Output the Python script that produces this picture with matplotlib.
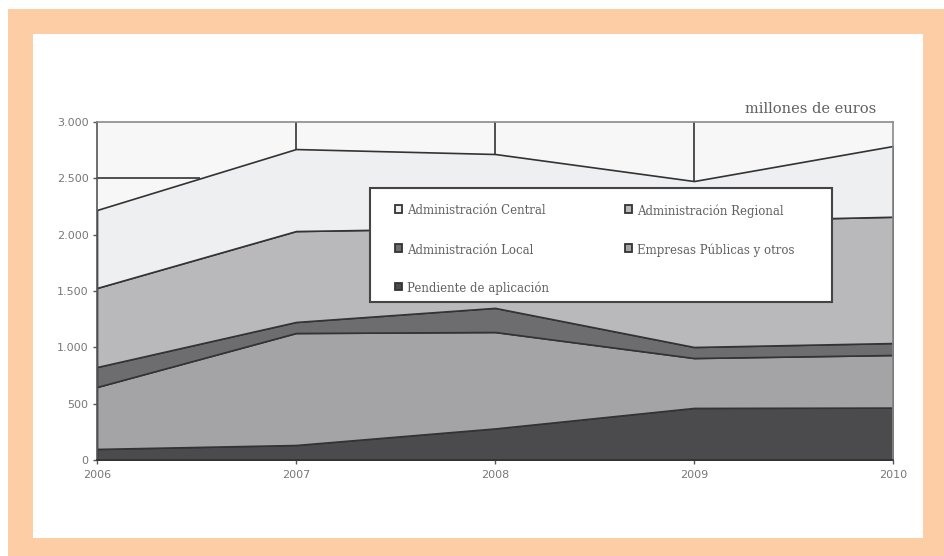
import matplotlib
matplotlib.use("Agg")
import matplotlib.pyplot as plt
from matplotlib.patches import Rectangle
import numpy as np

years = [2006, 2007, 2008, 2009, 2010]
pendiente = [98, 133, 280, 462, 465]
empresas = [550, 994, 856, 443, 467]
local = [177, 98, 214, 98, 106]
regional = [702, 807, 710, 1117, 1121]
central = [692, 728, 656, 356, 628]

series_labels = ["Pendiente de aplicación", "Empresas Públicas y otros",
                 "Administración Local", "Administración Regional",
                 "Administración Central"]
series_colors = ["#4b4b4e", "#a4a4a7", "#6d6d70", "#b9b9bc", "#eeeff1"]
yticks = [0, 500, 1000, 1500, 2000, 2500, 3000]
ytick_labels = ["0", "500", "1.000", "1.500", "2.000", "2.500", "3.000"]

W, H = 944, 556
fig = plt.figure(figsize=(W / 100, H / 100), dpi=100)
fig.patch.set_facecolor("white")

# orange frame
fig.patches.append(Rectangle((8 / W, 0), 1 - 8 / W, 1 - 9 / H, transform=fig.transFigure,
                             facecolor="#fdcda5", edgecolor="none", zorder=-10))
fig.patches.append(Rectangle((33 / W, (H - 538) / H), (923 - 33) / W, (538 - 34) / H,
                             transform=fig.transFigure, facecolor="white",
                             edgecolor="none", zorder=-9))

ax = fig.add_axes([97 / W, (H - 460) / H, (893 - 97) / W, (460 - 122) / H])
ax.set_facecolor("#f7f7f8")
data = [pendiente, empresas, local, regional, central]
ax.stackplot(years, *data, colors=series_colors, edgecolor="#333333", linewidth=1.2)

total = np.sum(np.array(data), axis=0)
# drop lines from the total to the top of the chart
ax.vlines(years[1:4], total[1:4], 3000, color="#333333", linewidth=1.2)
# horizontal 2500 line from the axis to where the total crosses it
x_cross = years[0] + (2500 - total[0]) / (total[1] - total[0]) * (years[1] - years[0])
ax.hlines(2500, years[0], x_cross, color="#333333", linewidth=1.2)

ax.set_xlim(years[0], years[-1])
ax.set_ylim(0, 3000)
ax.set_xticks(years)
ax.set_xticklabels([str(y) for y in years])
ax.set_yticks(yticks)
ax.set_yticklabels(ytick_labels)
for s in ax.spines.values():
    s.set_color("#8a8a8a")
    s.set_linewidth(1.2)
ax.spines["left"].set_color("#555555")
ax.spines["bottom"].set_color("#333333")
ax.tick_params(axis="both", labelsize=8, colors="#555555", length=3, width=1,
               labelcolor="#777777")
ax.tick_params(axis="y", pad=3)
ax.tick_params(axis="x", pad=4)
for lab in ax.get_xticklabels() + ax.get_yticklabels():
    lab.set_family("DejaVu Sans")

fig.text(876 / W, (H - 113) / H, "millones de euros", ha="right", va="baseline",
         fontsize=10.5, color="#606060", family="DejaVu Serif")

# legend box
lx0, ly0, lx1, ly1 = 370, 188, 832, 302
fig.patches.append(Rectangle((lx0 / W, (H - ly1) / H), (lx1 - lx0) / W, (ly1 - ly0) / H,
                             transform=fig.transFigure, facecolor="white",
                             edgecolor="#444444", linewidth=1.5, zorder=5))
legend_order = [4, 3, 2, 1, 0]
positions = [(398, 209), (628, 209), (398, 248), (628, 248), (398, 286)]
for idx, (px, py) in zip(legend_order, positions):
    fig.patches.append(Rectangle(((px - 3.5) / W, (H - py - 3.5) / H), 7 / W, 7 / H,
                                 transform=fig.transFigure, facecolor=series_colors[idx],
                                 edgecolor="#333333", linewidth=1.3, zorder=6))
    fig.text((px + 9) / W, (H - py - 2) / H, series_labels[idx], ha="left", va="center",
             fontsize=8.5, color="#606060", family="DejaVu Serif", zorder=6)

fig.savefig("out.png", dpi=100)
